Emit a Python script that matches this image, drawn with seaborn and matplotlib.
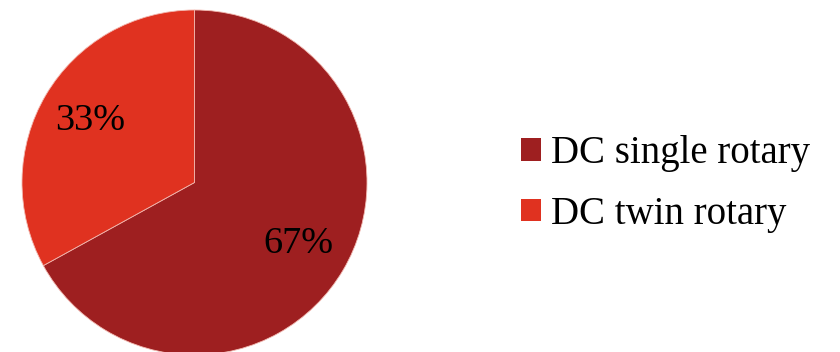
import matplotlib
matplotlib.use("Agg")
import matplotlib.pyplot as plt
from matplotlib.patches import Patch
import seaborn as sns

categories = ["DC single rotary", "DC twin rotary"]
shares = [67, 33]
colors = ["#9E1F20", "#E03220"]

sns.set_theme(style="white")
plt.rcParams["font.family"] = ["Liberation Serif", "DejaVu Serif"]
palette = sns.color_palette(colors)

W, H = 840, 352
fig = plt.figure(figsize=(W / 100, H / 100), dpi=100)

# pie centred at (194.5, 182.5) px from top-left, radius 172.5 px
cx, cy, r = 194.5, 182.5, 172.5
ax = fig.add_axes([(cx - r) / W, (H - cy - r) / H, 2 * r / W, 2 * r / H])
wedges, texts, autotexts = ax.pie(
    shares, colors=palette, startangle=90, counterclock=False,
    autopct=lambda p: f"{p:.0f}%", pctdistance=0.70, radius=1.0,
    wedgeprops=dict(edgecolor="#F2B8B0", linewidth=0.6),
    textprops=dict(fontsize=27.5, color="black"),
)
ax.set_xlim(-1, 1)
ax.set_ylim(-1, 1)
ax.set_aspect("equal")
ax.axis("off")

handles = [Patch(facecolor=c, edgecolor="none") for c in palette]
leg = fig.legend(handles, categories, loc="center left",
                 bbox_to_anchor=(521 / W, (H - 184) / H), frameon=False,
                 fontsize=28, handlelength=0.52, handleheight=0.52,
                 handletextpad=0.25, labelspacing=0.6, borderaxespad=0,
                 borderpad=0)
for t in leg.get_texts():
    t.set_color("black")

fig.savefig("out.png", dpi=100)
